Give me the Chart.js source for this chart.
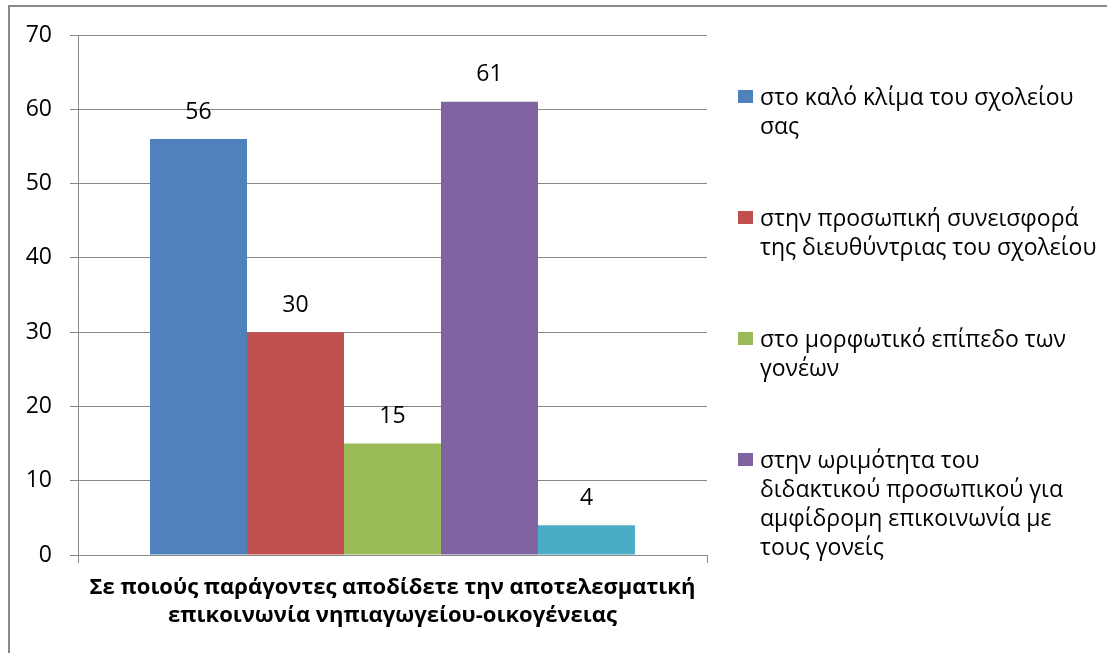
<!DOCTYPE html>
<html lang="el">
<head>
<meta charset="UTF-8">
<title>Παράγοντες επικοινωνίας νηπιαγωγείου-οικογένειας</title>
<script src="https://cdn.jsdelivr.net/npm/chart.js@4.4.1/dist/chart.umd.min.js"></script>
<style>
    html, body { margin: 0; padding: 0; background: #fff; }
    #wrap { position: relative; width: 1107px; height: 653px; overflow: hidden; }
    #frame { position: absolute; left: 8px; top: 5px; width: 1120px; height: 700px; border: 2px solid #8a8a8a; box-sizing: border-box; }
    #chart { position: absolute; left: 0; top: 0; }
    #legend { position: absolute; left: 738px; top: 82px; width: 361px; font-family: "Open Sans", sans-serif; font-size: 23px; line-height: 29px; color: #000; }
    .item { position: relative; padding-left: 22px; margin-bottom: 63px; }
    .item span.box { position: absolute; left: 0; top: 8px; width: 15px; height: 13px; }
</style>
</head>
<body>
<div id="wrap">
    <div id="frame"></div>
    <canvas id="chart" width="1107" height="653"></canvas>
    <div id="legend"></div>
</div>

<script>
    const category = [["Σε ποιούς παράγοντες αποδίδετε την αποτελεσματική", "επικοινωνία νηπιαγωγείου-οικογένειας"]]
    const seriesNames = [
        "στο καλό κλίμα του σχολείου σας",
        "στην προσωπική συνεισφορά της διευθύντριας του σχολείου",
        "στο μορφωτικό επίπεδο των γονέων",
        "στην ωριμότητα του διδακτικού προσωπικού για αμφίδρομη επικοινωνία με τους γονείς",
        ""
    ]
    const values = [56, 30, 15, 61, 4]
    const colors = ["#4F81BD", "#C0504D", "#9BBB59", "#8064A2", "#4BACC6"]
    const yTicks = [0, 10, 20, 30, 40, 50, 60, 70]

    const gridColor = "#878787"

    // values written above bars
    const barLabels = {
        id: "barLabels",
        afterDatasetsDraw(chart) {
            const ctx = chart.ctx
            ctx.save()
            ctx.font = "23px 'Open Sans', sans-serif"
            ctx.fillStyle = "#000"
            ctx.textAlign = "center"
            ctx.textBaseline = "middle"
            chart.data.datasets.forEach((ds, i) => {
                chart.getDatasetMeta(i).data.forEach((bar, j) => {
                    ctx.fillText(ds.data[j], bar.x, bar.y - 27)
                })
            })
            ctx.restore()
        }
    }

    new Chart(document.getElementById("chart"), {
        type: "bar",
        data: {
            labels: category,
            datasets: values.map((v, i) => ({
                label: seriesNames[i],
                data: [v],
                backgroundColor: colors[i],
                categoryPercentage: 0.771,
                barPercentage: 1
            }))
        },
        options: {
            responsive: false,
            animation: false,
            layout: { padding: { left: 0, top: 35, right: 400, bottom: 0 } },
            plugins: { legend: { display: false }, tooltip: { enabled: false } },
            scales: {
                x: {
                    offset: true,
                    grid: { display: true, drawOnChartArea: false, color: gridColor, tickLength: 8, offset: true },
                    border: { display: false },
                    ticks: {
                        color: "#000",
                        padding: 11,
                        font: { family: "'Open Sans', sans-serif", size: 22, weight: "bold", lineHeight: 1.27 }
                    },
                    afterFit(scale) { scale.height = 98 }
                },
                y: {
                    min: 0,
                    max: 70,
                    afterBuildTicks(scale) { scale.ticks = yTicks.map(v => ({ value: v })) },
                    grid: { color: gridColor, tickLength: 8 },
                    border: { display: true, color: gridColor },
                    ticks: {
                        color: "#000",
                        padding: 18,
                        font: { family: "'Open Sans', sans-serif", size: 23 }
                    },
                    afterFit(scale) { scale.width = 78 }
                }
            }
        },
        plugins: [barLabels]
    })

    // legend on the right, only the named series
    const legend = document.getElementById("legend")
    seriesNames.forEach((name, i) => {
        if (!name) return
        const item = document.createElement("div")
        item.className = "item"
        const box = document.createElement("span")
        box.className = "box"
        box.style.background = colors[i]
        item.appendChild(box)
        item.appendChild(document.createTextNode(name))
        legend.appendChild(item)
    })
</script>
</body>
</html>
